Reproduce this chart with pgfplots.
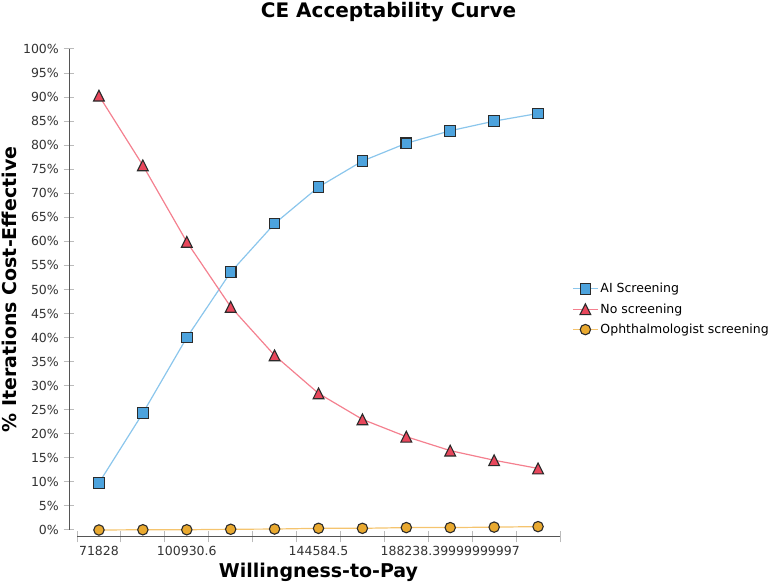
\documentclass[border=0pt]{standalone}
\usepackage{pgfplots}
\pgfplotsset{compat=1.18}
\usepackage{fontspec}
\setmainfont{DejaVu Sans}
\definecolor{aiLine}{HTML}{8BC6EC}
\definecolor{aiFill}{HTML}{4DA3DD}
\definecolor{nsLine}{HTML}{F4808F}
\definecolor{nsFill}{HTML}{E8475C}
\definecolor{opLine}{HTML}{F5C46E}
\definecolor{opFill}{HTML}{E9A92F}
\definecolor{mkDraw}{HTML}{2B2B2B}
\definecolor{tickGray}{HTML}{BBBBBB}
\definecolor{axisGray}{HTML}{555555}
\pgfdeclareplotmark{jtri}{%
  \pgfpathmoveto{\pgfqpoint{0pt}{\pgfplotmarksize}}%
  \pgfpathlineto{\pgfqpoint{\pgfplotmarksize}{-\pgfplotmarksize}}%
  \pgfpathlineto{\pgfqpoint{-\pgfplotmarksize}{-\pgfplotmarksize}}%
  \pgfpathclose\pgfusepathqfillstroke}
\begin{document}
\begin{tikzpicture}[x=1bp,y=1bp]
\path[use as bounding box] (0,0) rectangle (777,584);
\node[font=\fontsize{20bp}{24bp}\selectfont\bfseries, anchor=base, inner sep=0pt] at (388.5,566) {CE Acceptability Curve};
\begin{axis}[
  at={(77bp,54bp)}, anchor=south west,
  scale only axis, width=483bp, height=481bp,
  xmin=-0.5, xmax=10.5, ymin=0, ymax=100,
  axis lines=left, axis x line shift=7bp, axis y line shift=8bp,
  axis line style={axisGray, line width=1bp, -},
  clip=false,
  /pgf/number format/assume math mode=true,
  ticklabel style={font=\fontsize{12.5bp}{15bp}\selectfont, text=black!80},
  major tick length=11bp, tick align=center,
  tick style={tickGray, line width=1bp},
  ytick={0,5,...,100},
  yticklabel={\pgfmathprintnumber{\tick}\%},
  yticklabel style={anchor=east, inner sep=0pt, xshift=-4.5bp},
  xtick={-0.5,0.5,...,10.5},
  xticklabels={},
  extra x ticks={0,2,5,8},
  extra x tick labels={71828,100930.6,144584.5,188238.39999999997},
  extra x tick style={major tick length=0pt, tick label style={anchor=base, inner sep=0pt, yshift=-19bp}},
  xlabel={Willingness-to-Pay},
  ylabel={\% Iterations Cost-Effective},
  every axis x label/.style={at={(axis description cs:0.5,-0.0998)}, anchor=base, inner sep=0pt, font=\fontsize{19bp}{23bp}\selectfont\bfseries},
  every axis y label/.style={at={(axis description cs:-0.1408,0.5)}, rotate=90, anchor=center, inner sep=0pt, font=\fontsize{19bp}{23bp}\selectfont\bfseries},
  legend style={at={(1.025,0.459)}, anchor=west, draw=none, fill=none, inner sep=0pt,
    font=\fontsize{12.5bp}{15bp}\selectfont, row sep=5.4bp, cells={anchor=west}},
  legend image code/.code={\draw[mark repeat=2,mark phase=2] plot coordinates {(0bp,0bp) (12.5bp,0bp) (25bp,0bp)};},
]
\addplot[aiLine, line width=1.2bp, mark=square*, mark size=5.3bp,
  mark options={fill=aiFill, draw=mkDraw, line width=1.1bp}]
  coordinates {(0,9.8) (1,24.3) (2,40.0) (3,53.6) (4,63.7) (5,71.3) (6,76.7) (7,80.4) (8,83.0) (9,85.0) (10,86.6)};
\addlegendentry{AI Screening}
\addplot[nsLine, line width=1.2bp, mark=jtri, mark size=5.4bp,
  mark options={fill=nsFill, draw=mkDraw, line width=1.1bp}]
  coordinates {(0,90.3) (1,75.8) (2,59.9) (3,46.4) (4,36.3) (5,28.4) (6,23.0) (7,19.4) (8,16.5) (9,14.5) (10,12.8)};
\addlegendentry{No screening}
\addplot[opLine, line width=1.2bp, mark=*, mark size=5.2bp,
  mark options={fill=opFill, draw=mkDraw, line width=1.1bp}]
  coordinates {(0,0.0) (1,0.05) (2,0.05) (3,0.15) (4,0.2) (5,0.35) (6,0.35) (7,0.5) (8,0.5) (9,0.6) (10,0.7)};
\addlegendentry{Ophthalmologist screening}
\end{axis}
\end{tikzpicture}
\end{document}
